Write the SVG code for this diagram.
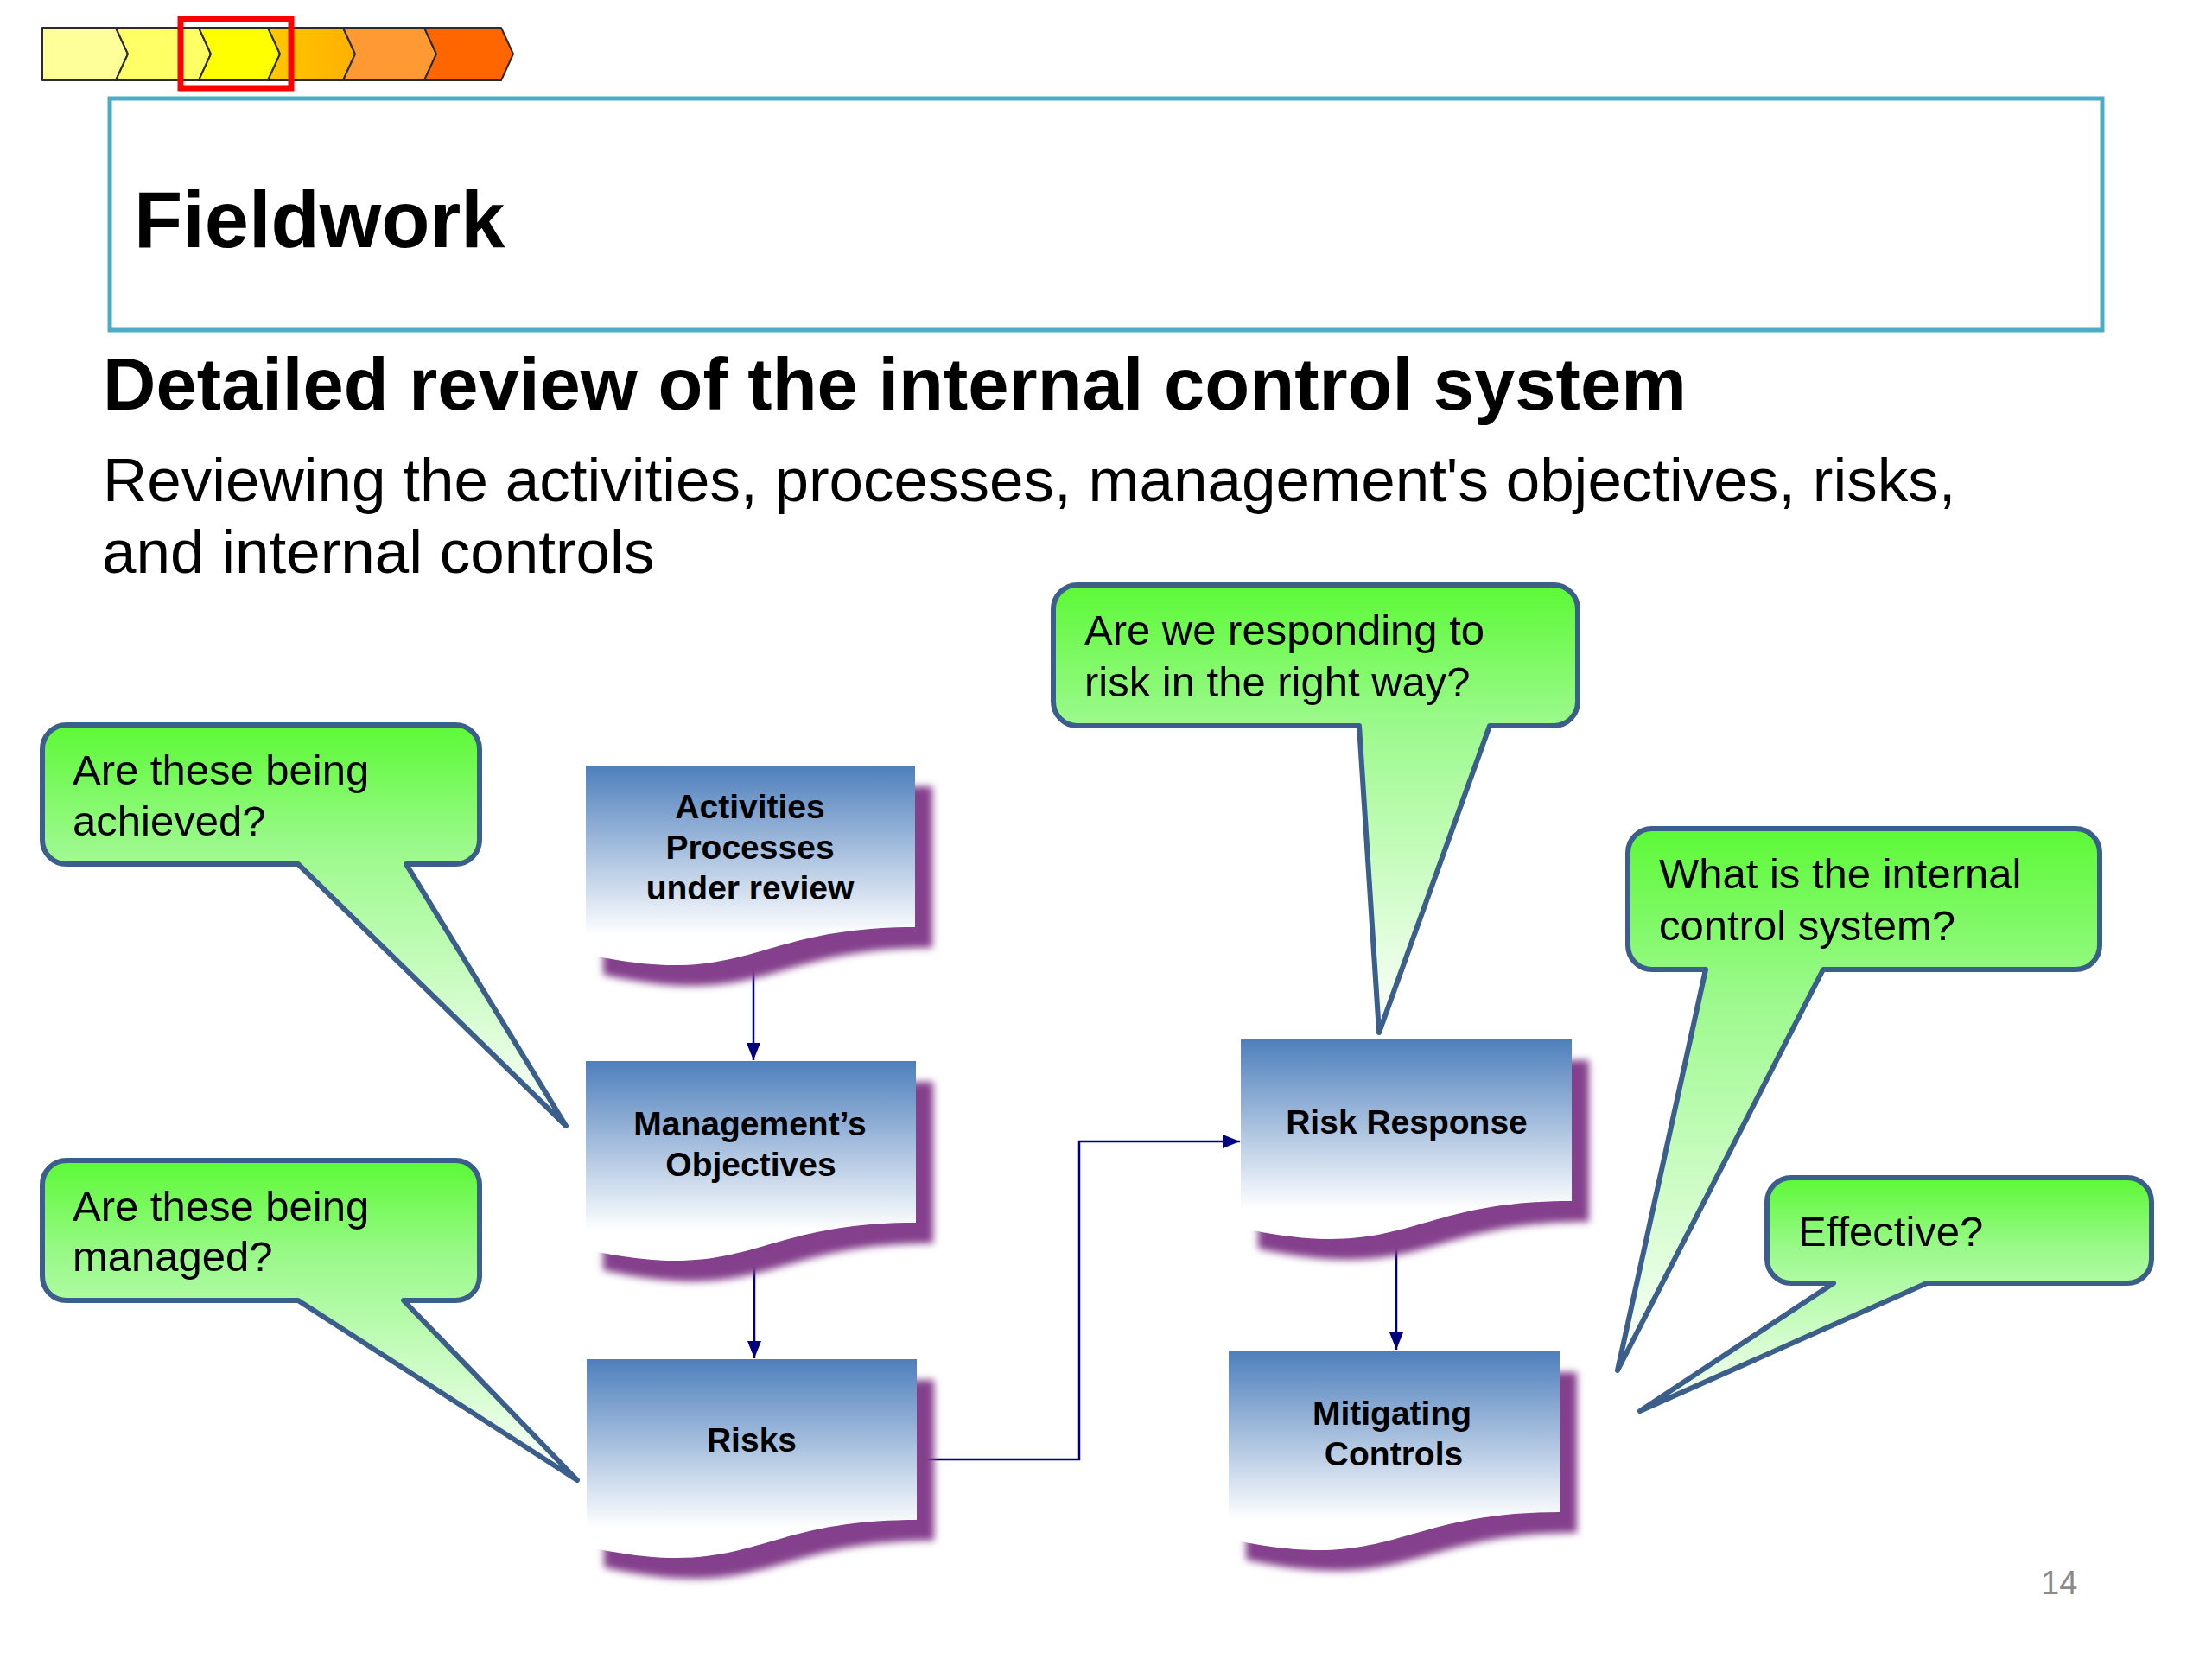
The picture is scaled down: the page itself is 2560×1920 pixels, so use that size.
<svg xmlns="http://www.w3.org/2000/svg" width="2560" height="1920" viewBox="0 0 2560 1920">
<style>
.chev{stroke:#2b2b2b;stroke-width:2;stroke-linejoin:round}
.call{stroke:#3B5E8A;stroke-width:6;stroke-linejoin:round}
.ct{font-family:"Liberation Sans",Arial,sans-serif;font-size:49px;fill:#000}
.doc{fill:url(#docg)}
.sh{fill:#84408C;filter:url(#blur)}
.dt{font-family:"Liberation Sans",Arial,sans-serif;font-size:39px;font-weight:bold;fill:#000;text-anchor:middle}
.con{fill:none;stroke:#00007F;stroke-width:2.5}
</style>
<defs>
<linearGradient id="callg" x1="0" y1="0" x2="0" y2="1">
<stop offset="0" stop-color="#5CF936"/>
<stop offset="0.3" stop-color="#9AF98A"/>
<stop offset="1" stop-color="#FFFFFF"/>
</linearGradient>
<linearGradient id="docg" x1="0" y1="0" x2="0" y2="1">
<stop offset="0" stop-color="#4E7FBC"/>
<stop offset="0.85" stop-color="#FFFFFF"/>
</linearGradient>
<linearGradient id="orag" x1="0" y1="0" x2="1" y2="0">
<stop offset="0" stop-color="#FFC800"/>
<stop offset="1" stop-color="#FFB000"/>
</linearGradient>
<filter id="blur" x="-10%" y="-10%" width="120%" height="120%">
<feGaussianBlur stdDeviation="4"/>
</filter>
<marker id="arr" markerWidth="20" markerHeight="16" refX="20" refY="8" orient="auto" markerUnits="userSpaceOnUse">
<path d="M0,0 L20,8 L0,16 Z" fill="#00007F"/>
</marker>
</defs>
<rect width="2560" height="1920" fill="#FFFFFF"/>

<g id="progress">
<path class="chev" fill="#FFFF99" d="M49,32 H134 L148,62.5 L134,93 H49 Z"/>
<path class="chev" fill="#FFFF66" d="M134,32 H230 L244,62.5 L230,93 H134 L148,62.5 Z"/>
<path class="chev" fill="#FFFF00" d="M230,32 H310 L324,62.5 L310,93 H230 L244,62.5 Z"/>
<path class="chev" fill="url(#orag)" d="M310,32 H397 L411,62.5 L397,93 H310 L324,62.5 Z"/>
<path class="chev" fill="#FF9933" d="M397,32 H491 L505,62.5 L491,93 H397 L411,62.5 Z"/>
<path class="chev" fill="#FF6600" d="M491,32 H580 L594,62.5 L580,93 H491 L505,62.5 Z"/>
<rect x="209" y="22" width="128" height="80" fill="none" stroke="#FF0000" stroke-width="7"/>
</g>

<g id="title">
<rect x="127" y="114" width="2306" height="268" fill="#FFFFFF" stroke="#4BACC6" stroke-width="5"/>
<text x="155" y="286" font-family="'Liberation Sans',Arial,sans-serif" font-size="92" font-weight="bold" fill="#000">Fieldwork</text>
</g>

<g id="heading">
<text x="119" y="474" font-family="'Liberation Sans',Arial,sans-serif" font-size="85" font-weight="bold" fill="#000">Detailed review of the internal control system</text>
<text font-family="'Liberation Sans',Arial,sans-serif" font-size="71" fill="#000"><tspan x="119" y="580">Reviewing the activities, processes, management's objectives, risks,</tspan><tspan x="118" y="663">and internal controls</tspan></text>
</g>

<g id="connectors">
<line class="con" x1="872" y1="1107" x2="872" y2="1227" marker-end="url(#arr)"/>
<line class="con" x1="873" y1="1450" x2="873" y2="1572" marker-end="url(#arr)"/>
<polyline class="con" points="1061,1689 1249,1689 1249,1321 1435,1321" marker-end="url(#arr)"/>
<line class="con" x1="1616" y1="1425" x2="1616" y2="1562" marker-end="url(#arr)"/>
</g>

<g id="doc-activities">
<path class="sh" transform="translate(20,24)" d="M678,886 H1059 V1073 C868,1073 868,1146 678,1104 Z"/>
<path class="doc" d="M678,886 H1059 V1073 C868,1073 868,1146 678,1104 Z"/>
<text class="dt"><tspan x="868" y="947">Activities</tspan><tspan x="868" y="994">Processes</tspan><tspan x="868" y="1041">under review</tspan></text>
</g>

<g id="doc-objectives">
<path class="sh" transform="translate(20,24)" d="M678,1228 H1060 V1415 C869,1415 869,1488 678,1446 Z"/>
<path class="doc" d="M678,1228 H1060 V1415 C869,1415 869,1488 678,1446 Z"/>
<text class="dt"><tspan x="868" y="1314">Management’s</tspan><tspan x="869" y="1361">Objectives</tspan></text>
</g>

<g id="doc-risks">
<path class="sh" transform="translate(20,24)" d="M679,1573 H1061 V1759 C870,1759 870,1832 679,1790 Z"/>
<path class="doc" d="M679,1573 H1061 V1759 C870,1759 870,1832 679,1790 Z"/>
<text class="dt" x="870" y="1680">Risks</text>
</g>

<g id="doc-response">
<path class="sh" transform="translate(20,24)" d="M1436,1203 H1819 V1390 C1628,1390 1628,1463 1436,1421 Z"/>
<path class="doc" d="M1436,1203 H1819 V1390 C1628,1390 1628,1463 1436,1421 Z"/>
<text class="dt" x="1628" y="1312">Risk Response</text>
</g>

<g id="doc-mitigating">
<path class="sh" transform="translate(20,24)" d="M1422,1564 H1805 V1750 C1614,1750 1614,1823 1422,1781 Z"/>
<path class="doc" d="M1422,1564 H1805 V1750 C1614,1750 1614,1823 1422,1781 Z"/>
<text class="dt"><tspan x="1611" y="1649">Mitigating</tspan><tspan x="1613" y="1696">Controls</tspan></text>
</g>

<g id="callout-achieved">
<path class="call" fill="url(#callg)" d="M77,839 H527 A28,28 0 0 1 555,867 V972 A28,28 0 0 1 527,1000 H470 L655,1303 L345,1000 H77 A28,28 0 0 1 49,972 V867 A28,28 0 0 1 77,839 Z"/>
<text class="ct"><tspan x="84" y="908">Are these being</tspan><tspan x="84" y="967">achieved?</tspan></text>
</g>

<g id="callout-managed">
<path class="call" fill="url(#callg)" d="M77,1343 H527 A28,28 0 0 1 555,1371 V1477 A28,28 0 0 1 527,1505 H467 L668,1713 L345,1505 H77 A28,28 0 0 1 49,1477 V1371 A28,28 0 0 1 77,1343 Z"/>
<text class="ct"><tspan x="84" y="1413">Are these being</tspan><tspan x="84" y="1471">managed?</tspan></text>
</g>

<g id="callout-responding">
<path class="call" fill="url(#callg)" d="M1247,677 H1798 A28,28 0 0 1 1826,705 V812 A28,28 0 0 1 1798,840 H1724 L1596,1195 L1573,840 H1247 A28,28 0 0 1 1219,812 V705 A28,28 0 0 1 1247,677 Z"/>
<text class="ct"><tspan x="1255" y="746">Are we responding to</tspan><tspan x="1255" y="806">risk in the right way?</tspan></text>
</g>

<g id="callout-system">
<path class="call" fill="url(#callg)" d="M1912,959 H2402 A28,28 0 0 1 2430,987 V1094 A28,28 0 0 1 2402,1122 H2110 L1872,1586 L1974,1122 H1912 A28,28 0 0 1 1884,1094 V987 A28,28 0 0 1 1912,959 Z"/>
<text class="ct"><tspan x="1920" y="1028">What is the internal</tspan><tspan x="1920" y="1088">control system?</tspan></text>
</g>

<g id="callout-effective">
<path class="call" fill="url(#callg)" d="M2073,1363 H2462 A28,28 0 0 1 2490,1391 V1457 A28,28 0 0 1 2462,1485 H2230 L1898,1633 L2122,1485 H2073 A28,28 0 0 1 2045,1457 V1391 A28,28 0 0 1 2073,1363 Z"/>
<text class="ct" x="2081" y="1442">Effective?</text>
</g>

<text id="page" x="2362" y="1845" font-family="'Liberation Sans',Arial,sans-serif" font-size="38" fill="#8A8A8A">14</text>
</svg>
